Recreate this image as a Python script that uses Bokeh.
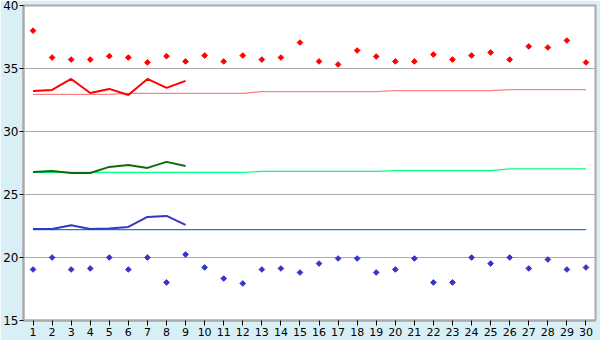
from bokeh.plotting import figure
from bokeh.models import Range1d, FixedTicker
from bokeh.embed import file_html
from bokeh.resources import INLINE

days = list(range(1, 31))
days9 = list(range(1, 10))
y_ticks = [15, 20, 25, 30, 35, 40]

red_points = [38.0, 35.87, 35.71, 35.71, 35.98, 35.87, 35.48, 35.98, 35.56, 36.03,
              35.56, 36.03, 35.71, 35.87, 37.06, 35.56, 35.32, 36.43, 35.95, 35.56,
              35.56, 36.11, 35.71, 36.03, 36.27, 35.71, 36.75, 36.67, 37.22, 35.48]
blue_points = [19.05, 20.0, 19.05, 19.13, 20.0, 19.05, 20.0, 18.02, 20.24, 19.21,
               18.33, 17.94, 19.05, 19.13, 18.81, 19.52, 19.92, 19.92, 18.81, 19.05,
               19.92, 18.02, 18.02, 20.0, 19.52, 20.0, 19.13, 19.84, 19.05, 19.21]

red_line = [33.22, 33.30, 34.17, 33.06, 33.38, 32.90, 34.17, 33.46, 34.02]
green_line = [26.79, 26.87, 26.71, 26.71, 27.19, 27.35, 27.11, 27.59, 27.27]
blue_line = [22.27, 22.27, 22.56, 22.27, 22.30, 22.43, 23.22, 23.30, 22.59]

red_ref = [32.94, 32.94, 32.94, 32.94, 32.94, 33.02, 33.02, 33.02, 33.02, 33.02,
           33.02, 33.02, 33.17, 33.17, 33.17, 33.17, 33.17, 33.17, 33.17, 33.25,
           33.25, 33.25, 33.25, 33.25, 33.25, 33.33, 33.33, 33.33, 33.33, 33.33]
green_ref = [26.75, 26.75, 26.75, 26.75, 26.75, 26.75, 26.75, 26.75, 26.75, 26.75,
             26.75, 26.75, 26.83, 26.83, 26.83, 26.83, 26.83, 26.83, 26.83, 26.90,
             26.90, 26.90, 26.90, 26.90, 26.90, 27.03, 27.03, 27.03, 27.03, 27.03]
blue_ref = [22.22] * 30

p = figure(width=600, height=340, x_range=Range1d(0.5, 30.5), y_range=Range1d(15, 40),
           output_backend="svg", toolbar_location=None,
           min_border_left=20, min_border_right=5, min_border_top=5, min_border_bottom=20)
p.background_fill_color = "white"
p.border_fill_color = "#D9EFF6"
p.outline_line_color = "#AAAAAA"
p.outline_line_width = 2

p.xgrid.visible = False
p.ygrid.ticker = FixedTicker(ticks=y_ticks)
p.ygrid.grid_line_color = "#AAAAAA"

p.xaxis.ticker = FixedTicker(ticks=days)
p.yaxis.ticker = FixedTicker(ticks=y_ticks)
for ax in (p.xaxis, p.yaxis):
    ax.axis_line_color = "#AAAAAA"
    ax.axis_line_width = 2
    ax.major_tick_line_color = "black"
    ax.major_tick_in = 0
    ax.minor_tick_line_color = None
    ax.major_label_text_color = "black"
    ax.major_label_text_font = "DejaVu Sans"
p.xaxis.major_tick_out = 5
p.xaxis.major_label_standoff = 2
p.xaxis.major_label_text_font_size = "11px"
p.yaxis.major_tick_out = 4
p.yaxis.major_label_standoff = 1
p.yaxis.major_label_text_font_size = "12px"

p.line(days, red_ref, line_color="#FF8080", line_width=1.2)
p.line(days, green_ref, line_color="#00FF80", line_width=1.2)
p.line(days, blue_ref, line_color="#1E78DC", line_width=1.2)

p.line(days9, red_line, line_color="#FF0000", line_width=2)
p.line(days9, green_line, line_color="#0A6E0A", line_width=2)
p.line(days9, blue_line, line_color="#3535C8", line_width=2)

p.scatter(days, red_points, marker="square", angle=0.785398, size=4,
          fill_color="#FF0000", line_color="#FF0000")
p.scatter(days, blue_points, marker="square", angle=0.785398, size=4,
          fill_color="#3535C8", line_color="#3535C8")

open("out.html", "w").write(file_html(p, INLINE))
